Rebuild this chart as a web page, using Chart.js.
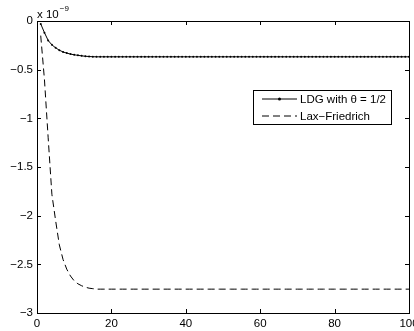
<!DOCTYPE html>
<html>
<head>
<meta charset="utf-8">
<script src="https://cdn.jsdelivr.net/npm/chart.js@4/dist/chart.umd.min.js"></script>
<style>
  html, body { margin: 0; padding: 0; background: #fff; overflow: hidden; width: 414px; height: 331px; }
  #wrap { width: 424px; height: 331px; }
</style>
</head>
<body>
<div id="wrap"><canvas id="c" width="424" height="331"></canvas></div>
<script>
// time steps (x values)
const xSteps = [1,2,3,4,5,6,7,8,9,10,11,12,13,14,15,16,17,18,19,20,
  21,22,23,24,25,26,27,28,29,30,31,32,33,34,35,36,37,38,39,40,
  41,42,43,44,45,46,47,48,49,50,51,52,53,54,55,56,57,58,59,60,
  61,62,63,64,65,66,67,68,69,70,71,72,73,74,75,76,77,78,79,80,
  81,82,83,84,85,86,87,88,89,90,91,92,93,94,95,96,97,98,99,100];

// values in units of 1e-9
const ldgValues = [-0.03,-0.12,-0.20,-0.245,-0.275,-0.300,-0.318,-0.330,-0.340,-0.347,
  -0.353,-0.358,-0.362,-0.365,-0.367,-0.368,-0.368,-0.368,-0.368,-0.368,
  -0.368,-0.368,-0.368,-0.368,-0.368,-0.368,-0.368,-0.368,-0.368,-0.368,
  -0.368,-0.368,-0.368,-0.368,-0.368,-0.368,-0.368,-0.368,-0.368,-0.368,
  -0.368,-0.368,-0.368,-0.368,-0.368,-0.368,-0.368,-0.368,-0.368,-0.368,
  -0.368,-0.368,-0.368,-0.368,-0.368,-0.368,-0.368,-0.368,-0.368,-0.368,
  -0.368,-0.368,-0.368,-0.368,-0.368,-0.368,-0.368,-0.368,-0.368,-0.368,
  -0.368,-0.368,-0.368,-0.368,-0.368,-0.368,-0.368,-0.368,-0.368,-0.368,
  -0.368,-0.368,-0.368,-0.368,-0.368,-0.368,-0.368,-0.368,-0.368,-0.368,
  -0.368,-0.368,-0.368,-0.368,-0.368,-0.368,-0.368,-0.368,-0.368,-0.368];

const laxValues = [-0.15,-0.60,-1.20,-1.78,-2.05,-2.30,-2.45,-2.55,-2.62,-2.67,
  -2.70,-2.72,-2.735,-2.745,-2.750,-2.755,-2.755,-2.755,-2.755,-2.755,
  -2.755,-2.755,-2.755,-2.755,-2.755,-2.755,-2.755,-2.755,-2.755,-2.755,
  -2.755,-2.755,-2.755,-2.755,-2.755,-2.755,-2.755,-2.755,-2.755,-2.755,
  -2.755,-2.755,-2.755,-2.755,-2.755,-2.755,-2.755,-2.755,-2.755,-2.755,
  -2.755,-2.755,-2.755,-2.755,-2.755,-2.755,-2.755,-2.755,-2.755,-2.755,
  -2.755,-2.755,-2.755,-2.755,-2.755,-2.755,-2.755,-2.755,-2.755,-2.755,
  -2.755,-2.755,-2.755,-2.755,-2.755,-2.755,-2.755,-2.755,-2.755,-2.755,
  -2.755,-2.755,-2.755,-2.755,-2.755,-2.755,-2.755,-2.755,-2.755,-2.755,
  -2.755,-2.755,-2.755,-2.755,-2.755,-2.755,-2.755,-2.755,-2.755,-2.755];

const seriesNames = ['LDG with \u03B8 = 1/2', 'Lax\u2212Friedrich'];
const xTicks = [0, 20, 40, 60, 80, 100];
const yTicks = [0, -0.5, -1, -1.5, -2, -2.5, -3];
const exponentBase = 'x 10';
const exponentPower = '\u22129';

const FONT = 'Liberation Sans, Arial, Helvetica, sans-serif';
const FSIZE = 11.5;

function toPoints(xs, ys) { return xs.map((x, i) => ({ x: x, y: ys[i] })); }

const matlabPlugin = {
  id: 'matlab',
  afterDatasetsDraw(chart) {
    const ctx = chart.ctx;
    const a = chart.chartArea;
    const xs = chart.scales.x, ys = chart.scales.y;
    ctx.save();
    // box
    ctx.strokeStyle = '#000';
    ctx.lineWidth = 1;
    ctx.setLineDash([]);
    ctx.strokeRect(Math.round(a.left) + 0.5, Math.round(a.top) + 0.5,
      Math.round(a.right - a.left), Math.round(a.bottom - a.top));
    // inward ticks
    const tl = 4;
    ctx.beginPath();
    xTicks.forEach(v => {
      const px = Math.round(xs.getPixelForValue(v)) + 0.5;
      ctx.moveTo(px, a.bottom); ctx.lineTo(px, a.bottom - tl);
      ctx.moveTo(px, a.top); ctx.lineTo(px, a.top + tl);
    });
    yTicks.forEach(v => {
      const py = Math.round(ys.getPixelForValue(v)) + 0.5;
      ctx.moveTo(a.left, py); ctx.lineTo(a.left + tl, py);
      ctx.moveTo(a.right, py); ctx.lineTo(a.right - tl, py);
    });
    ctx.stroke();

    // exponent label
    ctx.fillStyle = '#000';
    ctx.textBaseline = 'alphabetic';
    ctx.textAlign = 'left';
    ctx.font = FSIZE + 'px ' + FONT;
    ctx.fillText(exponentBase, a.left, a.top - 3);
    const w = ctx.measureText(exponentBase).width;
    ctx.font = '8px ' + FONT;
    ctx.fillText(exponentPower, a.left + w + 1, a.top - 10);

    // legend
    const lx = 253, ly = 90, lw = 138, lh = 34;
    ctx.fillStyle = '#fff';
    ctx.fillRect(lx, ly, lw, lh);
    ctx.strokeStyle = '#000';
    ctx.lineWidth = 1;
    ctx.strokeRect(lx + 0.5, ly + 0.5, lw, lh);
    const ds = chart.data.datasets;
    const rows = [ly + 9, ly + 26];
    ds.forEach((d, i) => {
      const y = rows[i];
      ctx.strokeStyle = d.borderColor;
      ctx.lineWidth = d.borderWidth;
      ctx.setLineDash(d.borderDash || []);
      ctx.beginPath();
      ctx.moveTo(262, y); ctx.lineTo(297, y);
      ctx.stroke();
      ctx.setLineDash([]);
      if (d.pointRadius > 0) {
        ctx.fillStyle = d.pointBackgroundColor;
        ctx.beginPath();
        ctx.arc(279.5, y, d.pointRadius + 0.5, 0, Math.PI * 2);
        ctx.fill();
      }
      ctx.fillStyle = '#000';
      ctx.font = FSIZE + 'px ' + FONT;
      ctx.textBaseline = 'middle';
      ctx.fillText(d.label, 300, y + 0.5);
    });
    ctx.restore();
  }
};

new Chart(document.getElementById('c'), {
  type: 'line',
  data: {
    datasets: [
      {
        label: seriesNames[0],
        data: toPoints(xSteps, ldgValues),
        borderColor: '#000',
        borderWidth: 1,
        pointRadius: 1,
        pointBackgroundColor: '#000',
        pointBorderColor: '#000',
        pointBorderWidth: 0,
        tension: 0,
        fill: false
      },
      {
        label: seriesNames[1],
        data: toPoints(xSteps, laxValues),
        borderColor: '#000',
        borderWidth: 1,
        borderDash: [7, 4],
        pointRadius: 0,
        pointBackgroundColor: '#000',
        tension: 0,
        fill: false
      }
    ]
  },
  options: {
    responsive: false,
    animation: false,
    devicePixelRatio: 1,
    layout: { padding: { left: 0, top: 21, right: 15, bottom: 0 } },
    plugins: { legend: { display: false }, tooltip: { enabled: false } },
    scales: {
      x: {
        type: 'linear',
        min: 0, max: 100,
        afterBuildTicks(s) { s.ticks = xTicks.map(v => ({ value: v })); },
        afterFit(s) { s.height = 18; },
        ticks: { color: '#000', font: { family: FONT, size: FSIZE }, padding: 4, maxRotation: 0,
          callback: v => String(v) },
        grid: { display: false, drawTicks: false },
        border: { display: false }
      },
      y: {
        min: -3, max: 0,
        afterBuildTicks(s) { s.ticks = yTicks.map(v => ({ value: v })); },
        afterFit(s) { s.width = 37; },
        ticks: { color: '#000', font: { family: FONT, size: FSIZE }, padding: 4,
          callback: v => String(v).replace('-', '\u2212') },
        grid: { display: false, drawTicks: false },
        border: { display: false }
      }
    }
  },
  plugins: [matlabPlugin]
});
</script>
</body>
</html>
